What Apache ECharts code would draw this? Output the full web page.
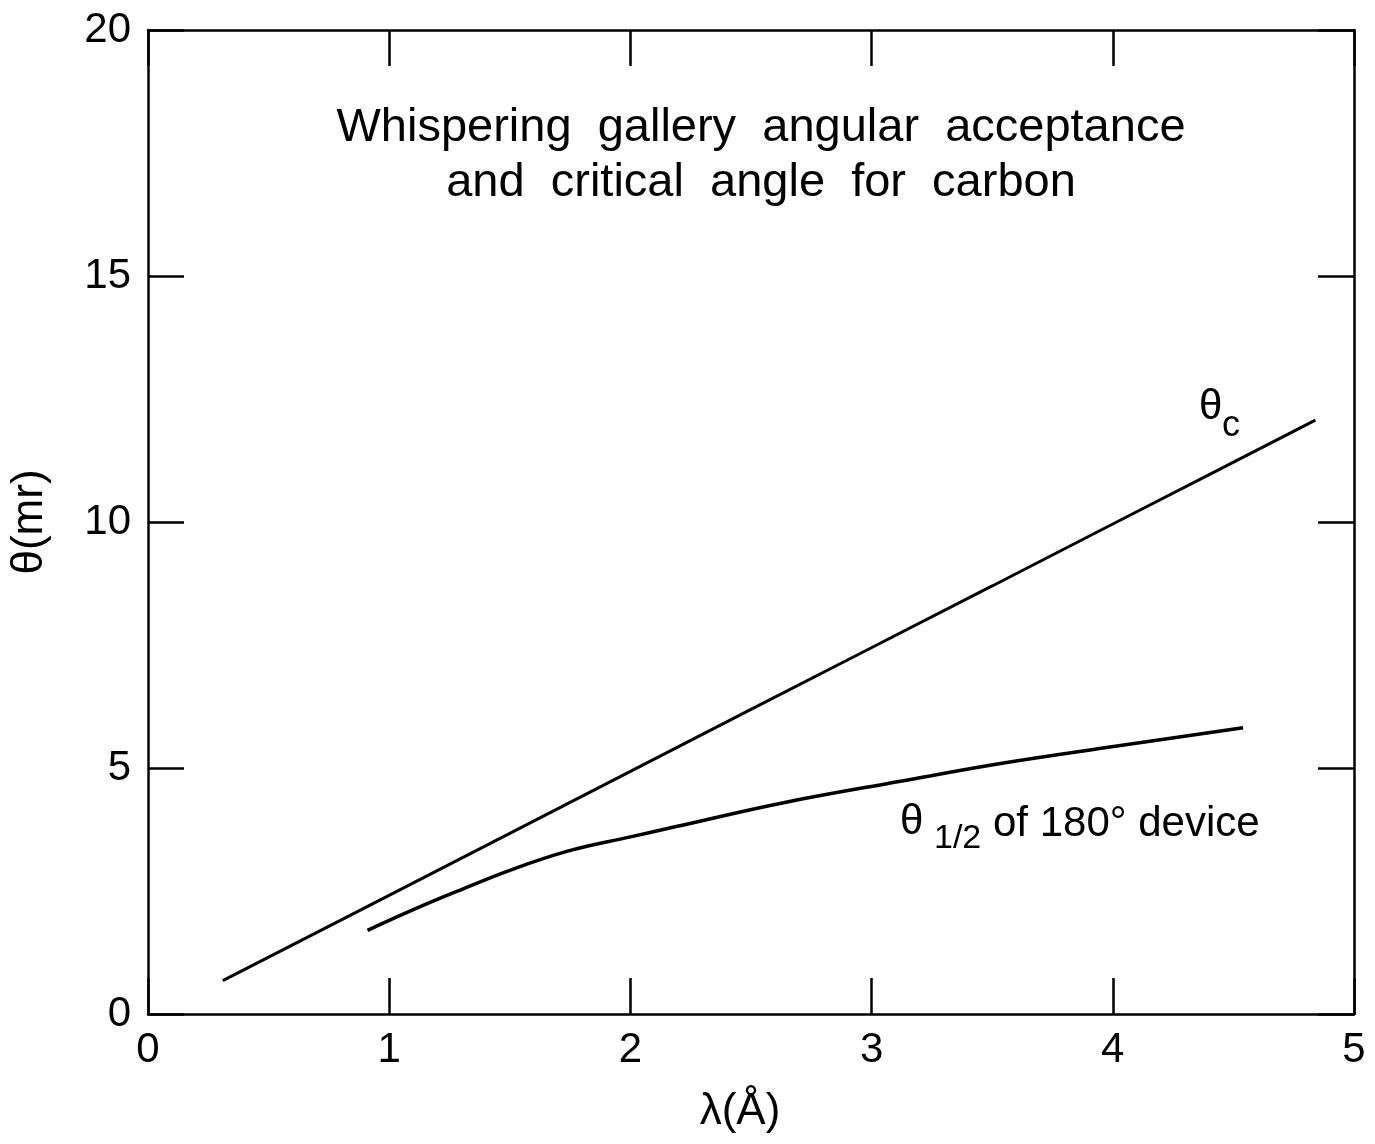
<!DOCTYPE html>
<html>
<head>
<meta charset="utf-8">
<script src="https://cdn.jsdelivr.net/npm/echarts@6/dist/echarts.min.js"></script>
<style>
html,body{margin:0;padding:0;background:#fff;}
#chart{width:1375px;height:1144px;}
</style>
</head>
<body>
<div id="chart"></div>
<script>
// ---- data ----
const xTicks = [0, 1, 2, 3, 4, 5];
const yTicks = [0, 5, 10, 15, 20];
const titleLines = ['Whispering  gallery  angular  acceptance', 'and  critical  angle  for  carbon'];
const xName = 'λ(Å)';
const yName = 'θ(mr)';

// θc : critical angle
const lambdaC = [0.31, 0.84, 1.5, 2.0, 2.5, 2.91, 3.5, 4.0, 4.43, 4.84];
const thetaC  = [0.68, 2.01, 3.67, 4.93, 6.19, 7.22, 8.70, 9.96, 11.04, 12.07];

// θ1/2 of 180° device
const lambdaHalf = [0.91, 1.1, 1.28, 1.5, 1.74, 2.0, 2.19, 2.63, 3.12, 3.56, 4.01, 4.54];
const thetaHalf  = [1.70, 2.12, 2.49, 2.92, 3.31, 3.60, 3.81, 4.29, 4.73, 5.11, 5.44, 5.82];

const FONT = "'Liberation Sans', Arial, Helvetica, sans-serif";
const pairs = (xs, ys) => xs.map((x, i) => [x, ys[i]]);

const chart = echarts.init(document.getElementById('chart'), null, {renderer: 'canvas'});

const axisLine = {show: true, onZero: false, lineStyle: {color: '#000', width: 2.5}};
const tickInside = {show: true, inside: true, length: 36, lineStyle: {color: '#000', width: 2.5}};
const txt = (text, left, top, size) => ({
  type: 'text', left: left, top: top,
  style: {text: text, fontFamily: FONT, fontSize: size, fill: '#000'}
});

const option = {
  backgroundColor: '#fff',
  animation: false,
  title: {
    text: titleLines.join('\n'),
    left: 756,
    top: 96,
    textAlign: 'center',
    textStyle: {fontFamily: FONT, fontSize: 47, fontWeight: 'normal', color: '#000', lineHeight: 55, align: 'center'}
  },
  grid: {left: 147, right: 21, top: 30, bottom: 130, containLabel: false},
  xAxis: [
    {
      type: 'value', min: xTicks[0], max: xTicks[xTicks.length - 1], interval: 1,
      position: 'bottom',
      name: xName, nameLocation: 'middle', nameGap: 76,
      nameTextStyle: {fontFamily: FONT, fontSize: 44, color: '#000', padding: [0, 22, 0, 0]},
      axisLine: axisLine,
      axisTick: tickInside,
      axisLabel: {fontFamily: FONT, fontSize: 42, color: '#000', margin: 15, showMinLabel: true, showMaxLabel: true},
      splitLine: {show: false}
    },
    {
      type: 'value', min: xTicks[0], max: xTicks[xTicks.length - 1], interval: 1,
      position: 'top',
      axisLine: axisLine,
      axisTick: tickInside,
      axisLabel: {show: false},
      splitLine: {show: false}
    }
  ],
  yAxis: [
    {
      type: 'value', min: yTicks[0], max: yTicks[yTicks.length - 1], interval: 5,
      position: 'left',
      name: yName, nameLocation: 'middle', nameGap: 96, nameRotate: 90,
      nameTextStyle: {fontFamily: FONT, fontSize: 44, color: '#000'},
      axisLine: axisLine,
      axisTick: tickInside,
      axisLabel: {fontFamily: FONT, fontSize: 42, color: '#000', margin: 17},
      splitLine: {show: false}
    },
    {
      type: 'value', min: yTicks[0], max: yTicks[yTicks.length - 1], interval: 5,
      position: 'right',
      axisLine: axisLine,
      axisTick: tickInside,
      axisLabel: {show: false},
      splitLine: {show: false}
    }
  ],
  series: [
    {
      name: 'θc', type: 'line', xAxisIndex: 0, yAxisIndex: 0,
      data: pairs(lambdaC, thetaC), showSymbol: false, smooth: false,
      lineStyle: {color: '#000', width: 3}
    },
    {
      name: 'θ1/2 of 180° device', type: 'line', xAxisIndex: 0, yAxisIndex: 0,
      data: pairs(lambdaHalf, thetaHalf), showSymbol: false, smooth: 0.4,
      lineStyle: {color: '#000', width: 3.5}
    }
  ],
  graphic: [
    txt('θ', 1199, 386, 42),
    txt('c', 1222, 408, 36),
    txt('θ', 900, 801, 42),
    txt('1/2', 934, 822, 34),
    txt('of 180° device', 993, 803, 42)
  ]
};
chart.setOption(option);
</script>
</body>
</html>
